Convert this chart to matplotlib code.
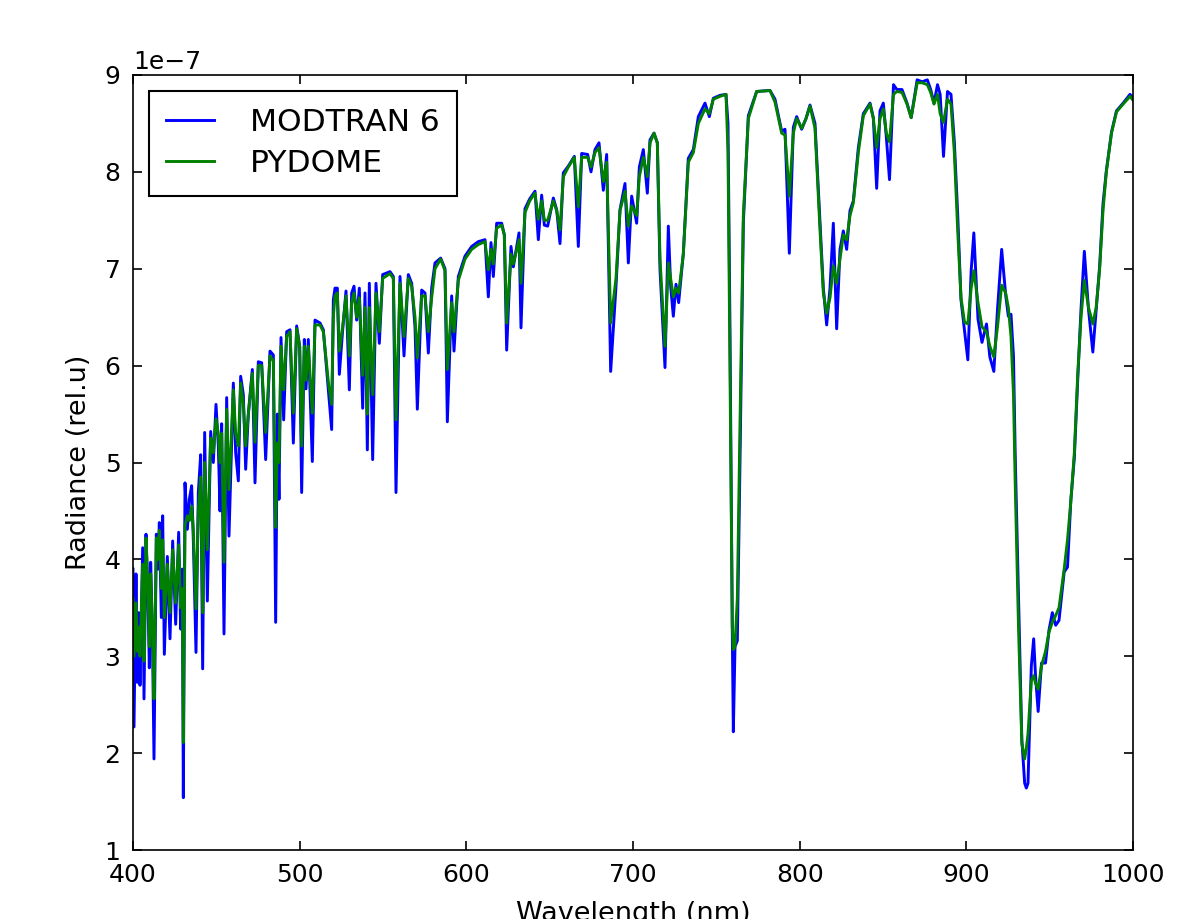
import numpy as np
import matplotlib
matplotlib.use("Agg")
import matplotlib.pyplot as plt

# wavelength (nm) and radiance in units of 1e-7
wl = [400.0, 400.6, 401.8, 402.6, 403.4, 404.2, 405.8, 406.6, 407.8, 409.0,
      409.8, 410.6, 411.6, 412.6, 414.0, 415.0, 415.8, 417.0, 417.8, 418.8,
      420.6, 422.2, 423.8, 425.6, 427.4, 428.6, 429.6, 430.2, 431.2, 432.6,
      433.8, 435.2, 436.2, 437.8, 439.2, 440.6, 441.8, 443.0, 444.6, 446.6,
      448.2, 449.8, 451.2, 452.2, 453.2, 454.6, 456.2, 457.6, 460.2, 461.6,
      463.2, 464.6, 466.2, 467.6, 469.2, 471.6, 473.2, 475.2, 477.2, 479.6,
      482.2, 484.2, 485.6, 486.6, 487.6, 488.8, 490.4, 492.2, 494.2, 496.2,
      498.2, 500.0, 501.2, 502.8, 503.8, 505.2, 507.6, 509.2, 512.2, 514.2,
      516.2, 517.4, 519.2, 520.2, 521.2, 522.6, 523.8, 525.8, 527.8, 529.8,
      531.2, 532.6, 534.2, 535.8, 537.8, 539.2, 540.6, 541.8, 543.8, 545.8,
      547.8, 549.8, 554.2, 556.2, 557.8, 560.2, 562.6, 565.2, 567.2, 569.2,
      570.6, 573.2, 575.2, 577.2, 579.2, 581.2, 584.6, 587.2, 588.6, 591.2,
      592.6, 595.2, 599.2, 603.2, 607.2, 611.2, 613.2, 614.8, 616.2, 618.2,
      621.2, 622.8, 624.2, 626.8, 628.2, 630.2, 631.6, 632.8, 635.2, 638.0,
      641.2, 643.2, 645.2, 646.8, 648.8, 652.2, 654.2, 656.2, 658.2, 661.2,
      664.8, 667.2, 669.2, 672.8, 674.8, 677.2, 679.6, 682.2, 684.2, 686.6,
      689.8, 692.2, 695.2, 697.2, 699.2, 702.2, 703.8, 706.2, 708.6, 710.2,
      712.6, 714.6, 716.2, 719.2, 721.2, 722.6, 724.2, 725.8, 727.4, 730.2,
      733.2, 736.2, 739.2, 743.2, 745.8, 748.2, 752.2, 755.8, 757.0, 758.2,
      759.6, 760.2, 761.2, 762.6, 764.2, 766.2, 769.2, 774.2, 782.2, 785.2,
      789.2, 791.2, 793.8, 796.2, 798.2, 801.2, 803.8, 806.2, 809.2, 812.2,
      814.2, 816.2, 818.2, 820.2, 822.2, 824.2, 826.2, 828.2, 830.2, 832.2,
      835.2, 838.2, 842.2, 844.2, 846.2, 848.2, 850.2, 852.0, 853.9, 856.3,
      858.3, 861.4, 864.4, 866.9, 870.5, 873.5, 876.6, 878.6, 880.6, 882.7,
      884.3, 886.3, 888.7, 890.8, 892.8, 894.8, 896.8, 898.9, 900.9, 902.9,
      904.5, 907.0, 909.4, 912.1, 914.1, 916.5, 918.7, 921.2, 923.6, 925.2,
      926.8, 928.3, 929.3, 931.3, 933.3, 935.0, 936.0, 937.0, 939.0, 940.4,
      941.5, 943.1, 945.1, 947.5, 949.6, 951.6, 953.6, 955.6, 958.7, 960.7,
      962.7, 964.8, 966.8, 968.8, 970.8, 973.3, 975.9, 977.9, 980.0, 982.0,
      984.0, 987.1, 990.1, 994.1, 998.2, 1000.0]

modtran = [3.90, 2.27, 3.85, 2.73, 3.45, 2.70, 4.12, 2.56, 4.26, 3.60,
           2.88, 3.97, 3.30, 1.94, 4.26, 3.90, 4.38, 3.40, 4.45, 3.02,
           4.03, 3.18, 4.19, 3.33, 4.28, 3.28, 3.90, 1.54, 4.79, 4.31,
           4.62, 4.76, 4.20, 3.04, 4.69, 5.08, 2.87, 5.31, 3.57, 5.32,
           5.00, 5.60, 5.17, 4.50, 5.40, 3.23, 5.67, 4.24, 5.82, 5.10,
           4.81, 5.89, 5.70, 4.93, 5.50, 5.96, 4.79, 6.04, 6.03, 5.03,
           6.15, 6.11, 3.35, 5.50, 4.62, 6.29, 5.44, 6.35, 6.37, 5.20,
           6.41, 6.20, 4.69, 6.27, 5.76, 6.27, 5.01, 6.47, 6.44, 6.37,
           5.96, 5.72, 5.34, 6.68, 6.80, 6.80, 5.91, 6.37, 6.77, 5.75,
           6.75, 6.82, 6.47, 6.80, 5.56, 6.75, 5.13, 6.85, 5.03, 6.85,
           6.23, 6.94, 6.97, 6.92, 4.69, 6.92, 6.10, 6.94, 6.85, 6.40,
           5.55, 6.78, 6.75, 6.13, 6.80, 7.06, 7.11, 7.00, 5.42, 6.72,
           6.15, 6.92, 7.13, 7.23, 7.28, 7.30, 6.71, 7.27, 6.92, 7.47,
           7.47, 7.35, 6.16, 7.23, 7.02, 7.23, 7.37, 6.39, 7.62, 7.72,
           7.80, 7.30, 7.76, 7.45, 7.44, 7.73, 7.61, 7.26, 7.99, 8.06,
           8.16, 7.23, 8.19, 8.18, 8.00, 8.23, 8.30, 7.81, 8.18, 5.94,
           6.82, 7.61, 7.88, 7.06, 7.75, 7.47, 8.05, 8.23, 7.78, 8.33,
           8.40, 8.30, 6.99, 5.98, 7.44, 6.82, 6.51, 6.84, 6.65, 7.16,
           8.14, 8.23, 8.57, 8.71, 8.57, 8.76, 8.79, 8.80, 8.50, 6.36,
           3.21, 2.22, 3.10, 3.16, 5.01, 7.47, 8.58, 8.83, 8.84, 8.75,
           8.42, 8.44, 7.16, 8.46, 8.57, 8.44, 8.55, 8.69, 8.50, 7.47,
           6.80, 6.42, 6.80, 7.47, 6.38, 7.20, 7.39, 7.20, 7.60, 7.70,
           8.25, 8.60, 8.71, 8.56, 7.83, 8.63, 8.71, 8.36, 7.92, 8.90,
           8.85, 8.85, 8.71, 8.56, 8.95, 8.93, 8.95, 8.85, 8.71, 8.90,
           8.80, 8.16, 8.83, 8.80, 8.31, 7.57, 6.68, 6.36, 6.06, 6.98,
           7.37, 6.48, 6.24, 6.43, 6.09, 5.94, 6.58, 7.20, 6.73, 6.51,
           6.53, 6.09, 5.10, 3.62, 2.14, 1.69, 1.64, 1.69, 2.90, 3.18,
           2.80, 2.43, 2.93, 2.93, 3.27, 3.45, 3.32, 3.37, 3.87, 3.92,
           4.61, 5.05, 5.84, 6.58, 7.18, 6.58, 6.14, 6.58, 7.03, 7.67,
           8.01, 8.41, 8.63, 8.71, 8.80, 8.76]

pydome = [3.60, 3.00, 3.55, 3.05, 3.30, 3.00, 3.95, 2.95, 4.22, 3.70,
          3.10, 3.85, 3.30, 2.56, 4.22, 4.00, 4.30, 3.70, 4.20, 3.40,
          3.95, 3.45, 4.10, 3.55, 4.15, 3.50, 3.70, 2.11, 4.35, 4.45,
          4.40, 4.55, 4.30, 3.49, 4.50, 4.85, 3.45, 5.00, 4.10, 5.25,
          5.10, 5.45, 5.30, 5.00, 5.30, 3.97, 5.55, 4.72, 5.75, 5.30,
          5.17, 5.82, 5.60, 5.17, 5.50, 5.92, 5.21, 6.00, 6.00, 5.31,
          6.10, 6.05, 4.33, 5.20, 5.00, 6.20, 5.75, 6.30, 6.35, 5.51,
          6.38, 6.20, 5.17, 6.20, 5.85, 6.20, 5.51, 6.42, 6.42, 6.35,
          6.00, 5.80, 5.60, 6.50, 6.72, 6.75, 6.15, 6.40, 6.72, 6.10,
          6.65, 6.75, 6.50, 6.70, 5.90, 6.60, 5.50, 6.60, 5.70, 6.75,
          6.35, 6.90, 6.95, 6.90, 5.44, 6.85, 6.30, 6.90, 6.82, 6.50,
          6.08, 6.72, 6.72, 6.35, 6.70, 7.00, 7.10, 6.98, 5.96, 6.65,
          6.35, 6.88, 7.10, 7.20, 7.25, 7.28, 6.99, 7.20, 7.05, 7.42,
          7.45, 7.35, 6.44, 7.15, 7.05, 7.20, 7.30, 6.85, 7.58, 7.70,
          7.78, 7.51, 7.70, 7.50, 7.50, 7.70, 7.60, 7.40, 7.95, 8.05,
          8.15, 7.64, 8.15, 8.15, 8.05, 8.20, 8.25, 7.90, 8.10, 6.44,
          6.90, 7.60, 7.80, 7.44, 7.65, 7.55, 7.95, 8.15, 7.95, 8.30,
          8.40, 8.30, 7.10, 6.20, 7.06, 6.90, 6.71, 6.80, 6.75, 7.15,
          8.10, 8.20, 8.50, 8.65, 8.60, 8.75, 8.78, 8.80, 8.20, 5.90,
          3.30, 3.07, 3.10, 3.60, 5.40, 7.55, 8.55, 8.83, 8.84, 8.72,
          8.40, 8.38, 7.75, 8.40, 8.55, 8.45, 8.55, 8.68, 8.45, 7.40,
          6.75, 6.54, 6.70, 7.03, 6.85, 7.10, 7.35, 7.30, 7.55, 7.68,
          8.20, 8.58, 8.70, 8.55, 8.25, 8.55, 8.65, 8.40, 8.31, 8.80,
          8.83, 8.82, 8.70, 8.56, 8.92, 8.92, 8.90, 8.82, 8.70, 8.80,
          8.60, 8.51, 8.75, 8.70, 8.20, 7.40, 6.70, 6.45, 6.43, 6.80,
          6.98, 6.65, 6.40, 6.35, 6.20, 6.09, 6.40, 6.83, 6.75, 6.60,
          6.30, 5.70, 4.80, 3.30, 2.10, 1.94, 2.05, 2.20, 2.75, 2.80,
          2.72, 2.66, 2.90, 3.05, 3.25, 3.35, 3.42, 3.50, 3.90, 4.20,
          4.60, 5.10, 5.90, 6.50, 6.88, 6.60, 6.43, 6.60, 7.00, 7.60,
          8.00, 8.40, 8.62, 8.70, 8.78, 8.74]

assert len(wl) == len(modtran) == len(pydome)

plt.rcParams['xtick.direction'] = 'in'
plt.rcParams['ytick.direction'] = 'in'
plt.rcParams['xtick.top'] = True
plt.rcParams['ytick.right'] = True
plt.rcParams['xtick.major.size'] = 4.5
plt.rcParams['ytick.major.size'] = 4.5
plt.rcParams['xtick.major.pad'] = 6
plt.rcParams['ytick.major.pad'] = 6
plt.rcParams['font.size'] = 12

fig = plt.figure(figsize=(8, 919 / 150), dpi=150)
ax = fig.add_axes([133 / 1200, 1 - 850 / 919, 1000 / 1200, 775 / 919])

scale = 1e-7
ax.plot(wl, np.array(modtran) * scale, color='#0000ff', lw=1.4, label='MODTRAN 6')
ax.plot(wl, np.array(pydome) * scale, color='#008000', lw=1.4, label='PYDOME')

ax.set_xlim(400, 1000)
ax.set_ylim(1e-7, 9e-7)
ax.set_xticks(np.arange(400, 1001, 100))
ax.set_yticks(np.arange(1, 10) * scale)
ax.set_xlabel('Wavelength (nm)', fontsize=13, labelpad=7)
ax.set_ylabel('Radiance (rel.u)', fontsize=13, labelpad=6)

leg = ax.legend(loc='upper left', fontsize=15, fancybox=False, framealpha=1,
                edgecolor='black', handlelength=1.55, handletextpad=1.15,
                borderpad=0.55, labelspacing=0.4, borderaxespad=0.5)
leg.get_frame().set_linewidth(1.0)

fig.savefig('out.png', dpi=150)
